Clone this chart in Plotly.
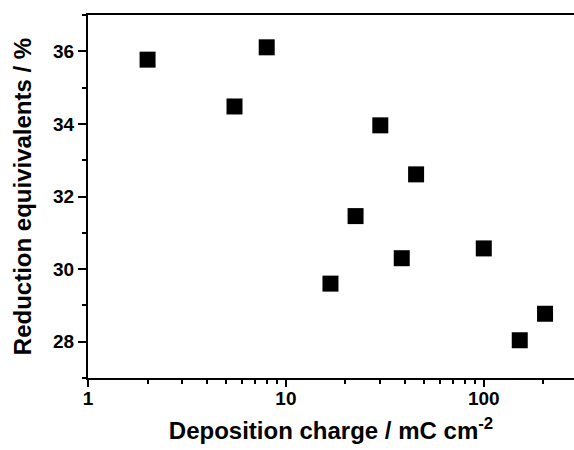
import plotly.graph_objects as go

charge = [2.0, 5.5, 8.0, 16.8, 22.5, 30.0, 38.5, 45.5, 100.0, 152.0, 204.0]
reduction = [35.77, 34.48, 36.11, 29.60, 31.46, 33.96, 30.30, 32.61, 30.57, 28.04, 28.77]

FONT = "Liberation Sans"

fig = go.Figure()
fig.add_trace(go.Scatter(
    x=charge, y=reduction, mode="markers",
    marker=dict(symbol="square", size=16, color="black", line=dict(width=0)),
    showlegend=False,
))

fig.update_layout(
    width=574, height=450,
    margin=dict(l=88, r=0, t=15, b=72),
    paper_bgcolor="white", plot_bgcolor="white",
    font=dict(family=FONT, color="black"),
)
fig.update_xaxes(
    type="log", range=[0, 2.456],
    tickvals=[1, 10, 100], ticktext=["<b>1</b>", "<b>10</b>", "<b>100</b>"],
    ticks="outside", ticklen=7, tickwidth=2, tickcolor="black",
    minor=dict(ticks="outside", ticklen=4, tickwidth=1.5, tickcolor="black", dtick="D1", showgrid=False),
    showline=True, linewidth=2, linecolor="black", mirror=True,
    showgrid=False, zeroline=False,
    tickfont=dict(size=19, family=FONT, color="black"),
    ticklabelstandoff=-5,
    title=dict(text="<b>Deposition charge / mC cm<sup>-2</sup></b>", font=dict(size=24, family=FONT, color="black"), standoff=14),
)
fig.update_yaxes(
    range=[27, 37],
    tickvals=[28, 30, 32, 34, 36], ticktext=["<b>28</b>", "<b>30</b>", "<b>32</b>", "<b>34</b>", "<b>36</b>"],
    ticks="outside", ticklen=8, tickwidth=2, tickcolor="black",
    minor=dict(ticks="outside", ticklen=4, tickwidth=1.5, tickcolor="black", dtick=1, tick0=27, showgrid=False),
    showline=True, linewidth=2, linecolor="black",
    showgrid=False, zeroline=False,
    tickfont=dict(size=19, family=FONT, color="black"),
    title=dict(text="<b>Reduction equivivalents / %</b>", font=dict(size=24, family=FONT, color="black"), standoff=15),
)

fig.write_html("out.html")
